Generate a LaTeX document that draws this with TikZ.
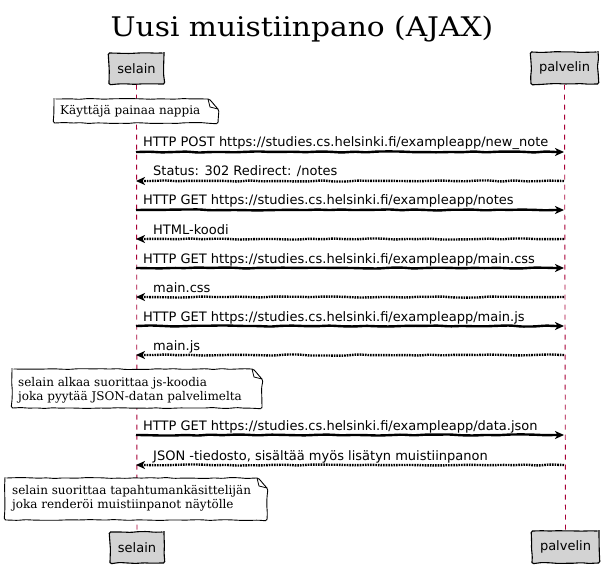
\documentclass[tikz,border=0pt]{standalone}
\usepackage{fontspec}
\usetikzlibrary{arrows.meta,decorations.pathmorphing}
\setmainfont{DejaVu Sans}
\newfontfamily\notefont{DejaVu Serif}
\newfontfamily\titlefont[FakeStretch=1.1]{DejaVu Serif}
\definecolor{boxgray}{RGB}{211,211,211}
\definecolor{lifered}{RGB}{168,0,54}
\begin{document}
\begin{tikzpicture}[x=1pt,y=-1pt,
  wob/.style={decorate,decoration={random steps,segment length=8pt,amplitude=0.5pt},rounded corners=1.5pt},
  part/.style={draw=black,line width=1.1pt,fill=boxgray,inner sep=0pt,font=\fontsize{13}{15}\selectfont,wob},
  life/.style={draw=lifered,line width=0.9pt,dash pattern=on 5pt off 5pt},
  call/.style={line width=2.4pt,-{Stealth[length=9pt,width=8pt,inset=2.5pt]},decorate,decoration={random steps,segment length=12pt,amplitude=0.6pt,pre length=2pt,post length=10pt},rounded corners=2pt},
  ret/.style={call,dash pattern=on 1.6pt off 1pt},
  msg/.style={anchor=base west,inner sep=0pt,font=\fontsize{13}{15}\selectfont},
  notebox/.style={draw=black,fill=white,line width=0.9pt,wob},
  fold/.style={draw=black,line width=0.8pt},
  notetext/.style={anchor=west,inner sep=0pt,align=left,font=\notefont\fontsize{12}{14}\selectfont}
]
\pgfmathsetseed{7}
\useasboundingbox (0,0) rectangle (603,567);

\node[anchor=base,inner sep=0pt,font=\titlefont\fontsize{27}{30}\selectfont] (title) at (302,37) {Uusi muistiinpano (AJAX)};

% participants
\node[part,minimum width=55pt,minimum height=31pt] (selT) at (136.5,68.5) {selain};
\node[part,minimum width=67pt,minimum height=32pt] (palT) at (564.5,68) {palvelin};
\node[part,minimum width=54pt,minimum height=31pt] (selB) at (137,547.5) {selain};
\node[part,minimum width=67pt,minimum height=32pt] (palB) at (565.5,547) {palvelin};

\draw[life] (selT.south) -- (selB.north);
\draw[life] (palT.south) -- (palB.north);

% lifeline points
\foreach \i/\y in {1/152,2/181,3/210,4/239,5/268,6/297,7/326,8/355,9/435,10/465}{
  \coordinate (s\i) at (136,\y);
  \coordinate (p\i) at (564,\y);
}

% note 1
\path[notebox] (54,99) -- (208,99) -- (218,109) -- (218,123) -- (54,123) -- cycle;
\draw[fold] (208,99) -- (210,107) -- (218,109);
\node[notetext] (n1) at (60,111.5) {Käyttäjä painaa nappia};

% messages
\draw[call] (s1) -- (p1);
\node[msg] (m1) at (143,147) {HTTP POST https://studies.cs.helsinki.fi/exampleapp/new\_note};
\draw[ret] (p2) -- (s2);
\node[msg] (m2) at (153,176) {Status: 302 Redirect: /notes};
\draw[call] (s3) -- (p3);
\node[msg] (m3) at (143,205) {HTTP GET https://studies.cs.helsinki.fi/exampleapp/notes};
\draw[ret] (p4) -- (s4);
\node[msg] (m4) at (153,234) {HTML-koodi};
\draw[call] (s5) -- (p5);
\node[msg] (m5) at (143,263) {HTTP GET https://studies.cs.helsinki.fi/exampleapp/main.css};
\draw[ret] (p6) -- (s6);
\node[msg] (m6) at (153,292) {main.css};
\draw[call] (s7) -- (p7);
\node[msg] (m7) at (143,321) {HTTP GET https://studies.cs.helsinki.fi/exampleapp/main.js};
\draw[ret] (p8) -- (s8);
\node[msg] (m8) at (153,350) {main.js};

% note 2
\path[notebox] (12,369) -- (252,369) -- (262,379) -- (262,408) -- (12,408) -- cycle;
\draw[fold] (252,369) -- (254,377) -- (262,379);
\node[notetext] (n2) at (18,390) {selain alkaa suorittaa js-koodia\\joka pyytää JSON-datan palvelimelta};

\draw[call] (s9) -- (p9);
\node[msg] (m9) at (143,430) {HTTP GET https://studies.cs.helsinki.fi/exampleapp/data.json};
\draw[ret] (p10) -- (s10);
\node[msg] (m10) at (153,460) {JSON -tiedosto, sisältää myös lisätyn muistiinpanon};

% note 3
\path[notebox] (5,478) -- (257,478) -- (267,488) -- (267,520) -- (5,520) -- cycle;
\draw[fold] (257,478) -- (259,486) -- (267,488);
\node[notetext] (n3) at (12,498) {selain suorittaa tapahtumankäsittelijän\\joka renderöi muistiinpanot näytölle};
\end{tikzpicture}
\end{document}
